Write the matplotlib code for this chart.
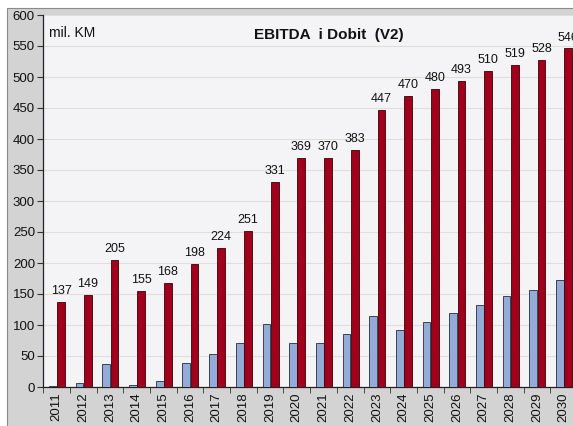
import matplotlib
matplotlib.use("Agg")
import matplotlib.pyplot as plt
from matplotlib.patches import Rectangle
import numpy as np

years = [str(y) for y in range(2011, 2031)]
dobit = [2, 6, 37, 3, 10, 38, 54, 71, 101, 71, 71, 86, 115, 92, 105, 120, 133, 146, 157, 172]
ebitda = [137, 149, 205, 155, 168, 198, 224, 251, 331, 369, 370, 383, 447, 470, 480, 493, 510, 519, 528, 546]
yticks = list(range(0, 601, 50))

plt.rcParams['font.family'] = ['Liberation Sans', 'DejaVu Sans']

W, H = 573, 426
fig = plt.figure(figsize=(W / 100, H / 100), dpi=100, facecolor='white')

# gray outer panel
bg = fig.add_axes([0, 0, 1, 1], zorder=-5)
bg.set_xlim(0, W)
bg.set_ylim(H, 0)
bg.axis('off')
bg.add_patch(Rectangle((7, 8), W, H, facecolor='#d3d3d3', edgecolor='#8a8a8a', lw=0.8))

left, right = 43.3 / W, 577 / W
bottom, top = (H - 387) / H, (H - 15) / H
ax = fig.add_axes([left, bottom, right - left, top - bottom], zorder=1)
ax.set_facecolor('#f4f4f7')

x = np.arange(len(years))
w = 0.29
ax.bar(x - 0.14, dobit, width=w, color='#93abd6', edgecolor='#2a2a3a', linewidth=0.6, zorder=3)
ax.bar(x + 0.17, ebitda, width=w, color='#a1001c', edgecolor='#3a0008', linewidth=0.6, zorder=3)

for xi, v in zip(x, ebitda):
    ax.text(xi + 0.17, v + 8, str(v), ha='center', va='bottom', fontsize=9, color='#111111', zorder=4)

ax.set_xlim(-0.5, len(years) - 0.5)
ax.set_ylim(0, 600)
ax.set_yticks(yticks)
ax.set_yticklabels([str(t) for t in yticks], fontsize=9.5, color='#111111')
ax.yaxis.grid(True, color='#e2ddd8', lw=0.8, zorder=0)
ax.set_axisbelow(True)

ax.set_xticks(x)
ax.set_xticklabels(years, rotation=90, fontsize=9.5, color='#111111')
ax.tick_params(axis='x', which='major', length=0, pad=4)
ax.set_xticks(np.arange(-0.5, len(years), 1), minor=True)
ax.tick_params(axis='x', which='minor', length=4, color='#333333', direction='out')
ax.tick_params(axis='y', length=4, color='#333333', pad=2)

for s in ['top', 'right']:
    ax.spines[s].set_visible(False)
ax.spines['left'].set_color('#222222')
ax.spines['bottom'].set_color('#222222')
ax.spines['left'].set_linewidth(0.9)
ax.spines['bottom'].set_linewidth(0.9)

ax.text(0.01, 0.97, 'mil. KM', transform=ax.transAxes, ha='left', va='top', fontsize=10, color='#111111')
ax.text(0.535, 0.965, 'EBITDA  i Dobit  (V2)', transform=ax.transAxes, ha='center', va='top',
        fontsize=11, fontweight='bold', color='#111111')

fig.savefig('out.png', dpi=100, facecolor='white')
